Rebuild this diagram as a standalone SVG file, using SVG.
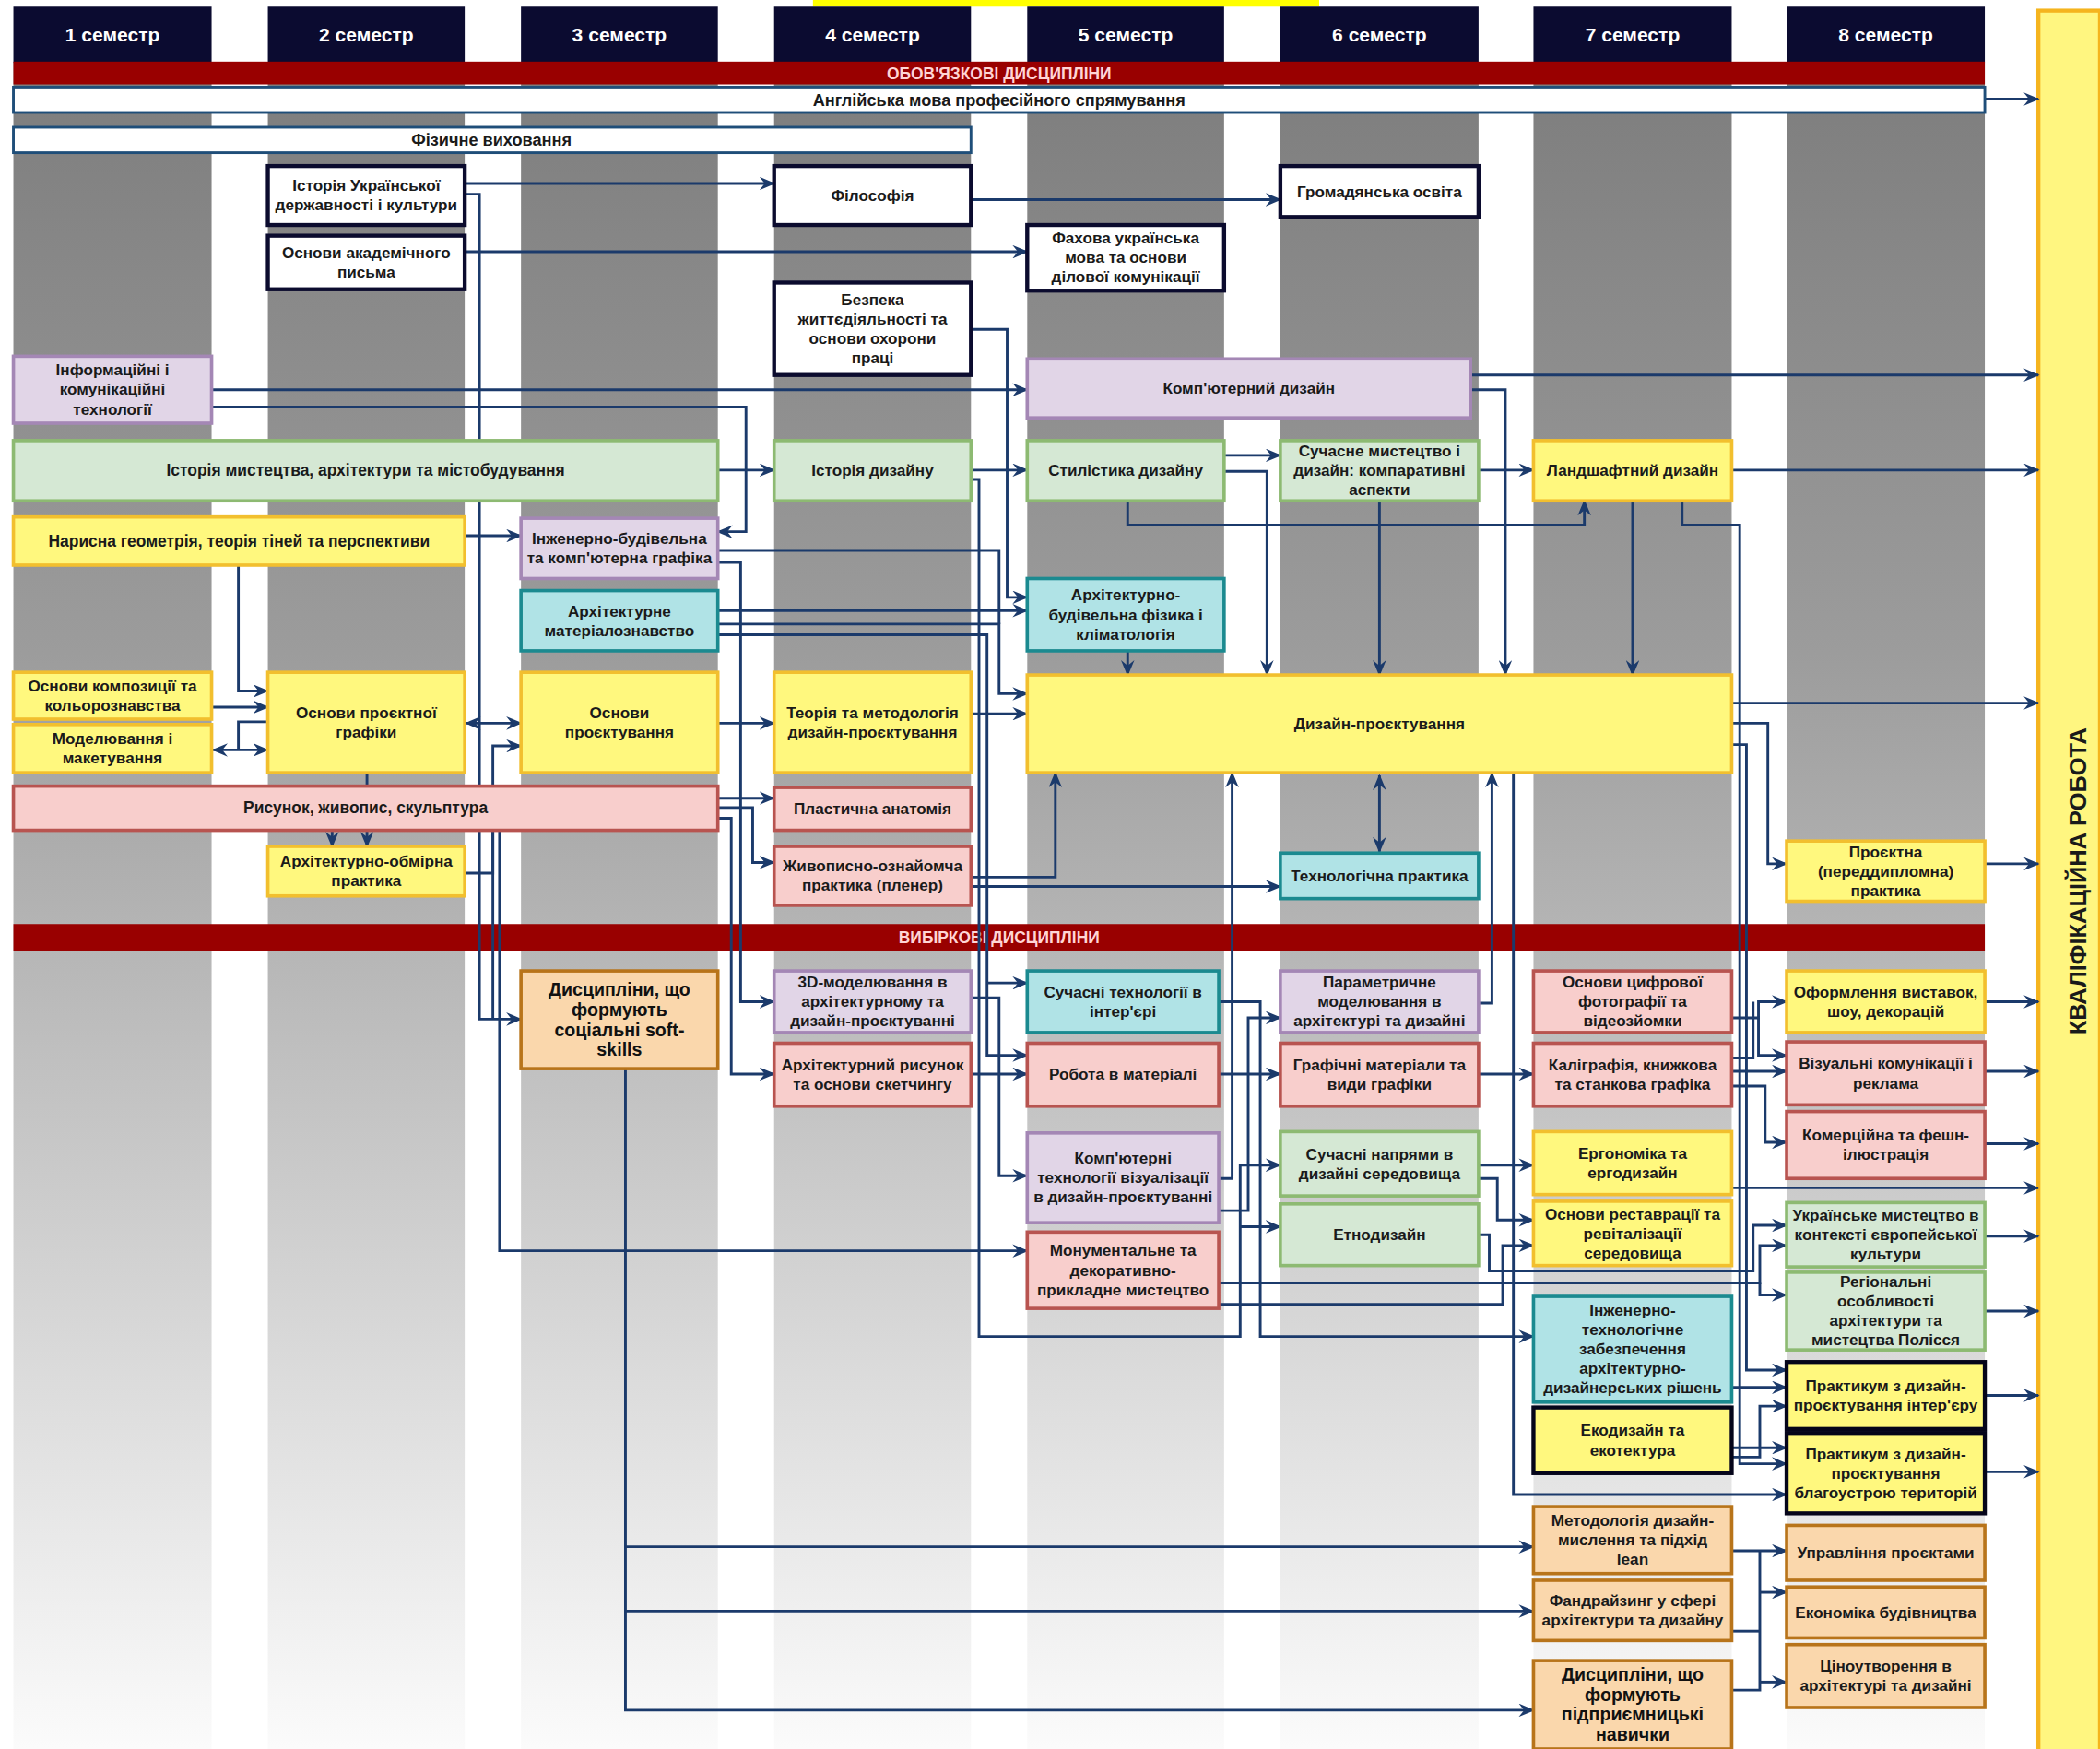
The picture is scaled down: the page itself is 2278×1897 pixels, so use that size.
<svg xmlns="http://www.w3.org/2000/svg" width="2278" height="1897" viewBox="0 0 2278 1897">
<defs>
<linearGradient id="colg" gradientUnits="userSpaceOnUse" x1="0" y1="47" x2="0" y2="1306">
<stop offset="0" stop-color="#7d7d7d"/>
<stop offset="0.35" stop-color="#9c9c9c"/>
<stop offset="0.7" stop-color="#d0d0d0"/>
<stop offset="1" stop-color="#fbfbfb"/>
</linearGradient>
<marker id="ar" markerUnits="userSpaceOnUse" markerWidth="12" markerHeight="10" viewBox="0 0 12 10" refX="11" refY="5" orient="auto-start-reverse">
<path d="M0,0 L12,5 L0,10 L4,5 Z" fill="#1b3a6b"/>
</marker>
<style>
text{font-family:"Liberation Sans",Arial,sans-serif;font-weight:bold;}
.hd{fill:#0b0b30;}
.ht{fill:#ffffff;font-size:14.5px;text-anchor:middle;}
.col{fill:url(#colg);}
.bar{fill:#990000;}
.bt{fill:#ffd5d5;font-size:12px;text-anchor:middle;}
.t{fill:#1a1a1a;font-size:11.8px;text-anchor:middle;}
.tl{fill:#1a1a1a;font-size:12.5px;text-anchor:middle;}
.tb{fill:#111111;font-size:13.5px;text-anchor:middle;}
.w{fill:#ffffff;stroke:#0b0b2e;stroke-width:3;}
.wl{fill:#ffffff;stroke:#1f4e79;stroke-width:2;}
.lav{fill:#e1d5e7;stroke:#a487b5;stroke-width:2.5;}
.grn{fill:#d5e8d4;stroke:#8dba72;stroke-width:2.5;}
.yel{fill:#fff87e;stroke:#f2bf2e;stroke-width:2.5;}
.yk{fill:#fff87e;stroke:#05051a;stroke-width:3;}
.cyn{fill:#b0e3e6;stroke:#1b8a90;stroke-width:2.5;}
.pnk{fill:#f8cecc;stroke:#b85450;stroke-width:2.5;}
.org{fill:#fad7ac;stroke:#b8741a;stroke-width:2.5;}
.kr{fill:#fff680;stroke:#f5b41e;stroke-width:3;}
.c path{fill:none;stroke:#1b3a6b;stroke-width:2;}
.c .a{marker-end:url(#ar);}
.c .d{marker-end:url(#ar);marker-start:url(#ar);}
</style>
</defs>
<rect width="2278" height="1897" fill="#ffffff"/>
<g transform="scale(1.4528,1.45253)">
<rect x="607" y="0" width="378" height="5" fill="#ffff00"/>
<g id="columns">
<rect class="col" x="10" y="47" width="148" height="1259"/>
<rect class="col" x="200" y="47" width="147" height="1259"/>
<rect class="col" x="389" y="47" width="147" height="1259"/>
<rect class="col" x="578" y="47" width="147" height="1259"/>
<rect class="col" x="767" y="47" width="147" height="1259"/>
<rect class="col" x="956" y="47" width="148" height="1259"/>
<rect class="col" x="1145" y="47" width="148" height="1259"/>
<rect class="col" x="1334" y="47" width="148" height="1259"/>
</g>
<g id="headers">
<rect class="hd" x="10" y="5" width="148" height="42"/><text class="ht" x="84" y="31">1 семестр</text>
<rect class="hd" x="200" y="5" width="147" height="42"/><text class="ht" x="273.5" y="31">2 семестр</text>
<rect class="hd" x="389" y="5" width="147" height="42"/><text class="ht" x="462.5" y="31">3 семестр</text>
<rect class="hd" x="578" y="5" width="147" height="42"/><text class="ht" x="651.5" y="31">4 семестр</text>
<rect class="hd" x="767" y="5" width="147" height="42"/><text class="ht" x="840.5" y="31">5 семестр</text>
<rect class="hd" x="956" y="5" width="148" height="42"/><text class="ht" x="1030" y="31">6 семестр</text>
<rect class="hd" x="1145" y="5" width="148" height="42"/><text class="ht" x="1219" y="31">7 семестр</text>
<rect class="hd" x="1334" y="5" width="148" height="42"/><text class="ht" x="1408" y="31">8 семестр</text>
</g>
<g id="bar-mandatory"><rect class="bar" x="10" y="46" width="1472" height="17"/><text class="bt" x="746" y="59.5">ОБОВ'ЯЗКОВІ ДИСЦИПЛІНИ</text></g>
<g id="bar-elective"><rect class="bar" x="10" y="690" width="1472" height="20"/><text class="bt" x="746" y="704.5">ВИБІРКОВІ ДИСЦИПЛІНИ</text></g>
<g id="kr"><rect class="kr" x="1522" y="8" width="46" height="1300"/><text class="t" style="font-size:17.5px" transform="translate(1551,658) rotate(-90)" x="0" y="6.5">КВАЛІФІКАЦІЙНА РОБОТА</text></g>

<g class="c" id="connectors">
<path class="a" d="M1482,74 H1522"/>
<path class="a" d="M347,137 H578"/>
<path class="a" d="M347,145 H358 V761 H389"/>
<path class="a" d="M347,188 H767"/>
<path class="a" d="M725,149 H956"/>
<path class="a" d="M725,246 H752 V446 H767"/>
<path class="a" d="M158,291 H767"/>
<path class="a" d="M158,304 H557 V397 H536"/>
<path class="a" d="M536,351 H578"/>
<path class="a" d="M725,351 H767"/>
<path class="a" d="M725,358 H731 V998 H926 V870 H956"/>
<path class="a" d="M926,916 H956"/>
<path class="a" d="M910,748 H941 V998 H1145"/>
<path class="a" d="M910,880 H920 V577"/>
<path class="a" d="M910,904 H932 V760 H956"/>
<path class="a" d="M914,340 H956"/>
<path class="a" d="M914,352 H946 V504"/>
<path class="a" d="M842,374 V392 H1183 V374"/>
<path class="a" d="M1104,351 H1145"/>
<path class="a" d="M1030,374 V504"/>
<path class="a" d="M1098,280 H1522"/>
<path class="a" d="M1098,291 H1124 V504"/>
<path class="a" d="M1293,351 H1522"/>
<path class="a" d="M1219,374 V504"/>
<path class="a" d="M1256,374 V392 H1299 V1093 H1334"/>
<path class="a" d="M1293,525 H1522"/>
<path class="a" d="M1293,540 H1320 V645 H1334"/>
<path class="a" d="M1482,645 H1522"/>
<path class="a" d="M1293,556 H1304 V1023 H1334"/>
<path class="a" d="M842,486 V504"/>
<path class="a" d="M536,456 H767"/>
<path class="a" d="M536,466 H746 V518 H767"/>
<path d="M536,411 H746 V466"/>
<path class="a" d="M536,474 H737 V788 H767"/>
<path class="a" d="M737,734 H767"/>
<path class="a" d="M725,745 H746 V878 H767"/>
<path class="a" d="M536,596 H578"/>
<path class="a" d="M536,603 H562 V644 H578"/>
<path class="a" d="M536,611 H546 V802 H578"/>
<path class="a" d="M536,420 H553 V748 H578"/>
<path class="a" d="M725,802 H767"/>
<path class="a" d="M725,655 H788 V577"/>
<path class="a" d="M725,662 H956"/>
<path class="d" d="M1030,579 V636"/>
<path class="a" d="M725,533 H767"/>
<path class="a" d="M536,540 H578"/>
<path class="d" d="M348,540 H389"/>
<path class="a" d="M347,652 H368 V557 H389"/>
<path class="a" d="M178,422 V516 H200"/>
<path class="a" d="M158,528 H200"/>
<path class="d" d="M159,560 H200"/>
<path d="M200,539 H178 V560"/>
<path class="a" d="M347,400 H389"/>
<path d="M274,577 V587"/>
<path class="a" d="M248,620 V632"/>
<path class="a" d="M274,620 V632"/>
<path d="M368,620 V761"/>
<path class="a" d="M373,620 V934 H767"/>
<path class="a" d="M467,798 V1277 H1145"/>
<path class="a" d="M467,1155 H1145"/>
<path class="a" d="M467,1203 H1145"/>
<path class="a" d="M910,802 H956"/>
<path class="a" d="M1104,802 H1145"/>
<path class="a" d="M1104,749 H1114 V577"/>
<path class="a" d="M1130,577 V1116 H1334"/>
<path class="a" d="M1104,870 H1145"/>
<path class="a" d="M1104,880 H1118 V911 H1145"/>
<path class="a" d="M1104,922 H1112 V949 H1309 V915 H1334"/>
<path class="a" d="M910,958 H1314 V930 H1334"/>
<path class="a" d="M1314,958 V967 H1334"/>
<path class="a" d="M910,974 H1122 V930 H1145"/>
<path class="a" d="M1293,887 H1522"/>
<path class="a" d="M1293,760 H1313 V748 H1334"/>
<path class="a" d="M1313,760 V788 H1334"/>
<path d="M1293,790 H1309 V748"/>
<path class="a" d="M1293,800 H1334"/>
<path class="a" d="M1293,811 H1318 V853 H1334"/>
<path class="a" d="M1482,748 H1522"/>
<path class="a" d="M1482,800 H1522"/>
<path class="a" d="M1482,854 H1522"/>
<path class="a" d="M1482,923 H1522"/>
<path class="a" d="M1482,979 H1522"/>
<path class="a" d="M1482,1042 H1522"/>
<path class="a" d="M1482,1099 H1522"/>
<path class="a" d="M1293,1036 H1334"/>
<path class="a" d="M1293,1081 H1334"/>
<path class="a" d="M1293,1088 H1314 V1050 H1334"/>
<path class="a" d="M1293,1158 H1334"/>
<path d="M1314,1158 V1262 H1293"/>
<path class="a" d="M1314,1189 H1334"/>
<path class="a" d="M1314,1256 H1334"/>
<path d="M1293,1218 H1314"/>
</g>

<g id="n-english"><rect class="wl" x="10" y="65" width="1472" height="19"/><text class="tl" x="746" y="79">Англійська мова професійного спрямування</text></g>
<g id="n-fizvykh"><rect class="wl" x="10" y="95" width="715" height="19"/><text class="tl" x="367" y="109">Фізичне виховання</text></g>
<g id="n-istukr"><rect class="w" x="200" y="124" width="147" height="44"/><text class="t"><tspan x="273.5" y="142.75">Історія Української</tspan><tspan x="273.5" y="157.25">державності і культури</tspan></text></g>
<g id="n-akad"><rect class="w" x="200" y="176" width="147" height="40"/><text class="t"><tspan x="273.5" y="192.75">Основи академічного</tspan><tspan x="273.5" y="207.25">письма</tspan></text></g>
<g id="n-filos"><rect class="w" x="578" y="124" width="147" height="44"/><text class="t" x="651.5" y="150">Філософія</text></g>
<g id="n-gromad"><rect class="w" x="956" y="124" width="148" height="38"/><text class="t" x="1030" y="147">Громадянська освіта</text></g>
<g id="n-fakh"><rect class="w" x="767" y="168" width="147" height="49"/><text class="t"><tspan x="840.5" y="182">Фахова українська</tspan><tspan x="840.5" y="196.5">мова та основи</tspan><tspan x="840.5" y="211">ділової комунікації</tspan></text></g>
<g id="n-bezp"><rect class="w" x="578" y="211" width="147" height="69"/><text class="t"><tspan x="651.5" y="227.75">Безпека</tspan><tspan x="651.5" y="242.25">життєдіяльності та</tspan><tspan x="651.5" y="256.75">основи охорони</tspan><tspan x="651.5" y="271.25">праці</tspan></text></g>
<g id="n-inf"><rect class="lav" x="10" y="266" width="148" height="50"/><text class="t"><tspan x="84" y="280.5">Інформаційні і</tspan><tspan x="84" y="295">комунікаційні</tspan><tspan x="84" y="309.5">технології</tspan></text></g>
<g id="n-compd"><rect class="lav" x="767" y="268" width="331" height="44"/><text class="t" x="932.5" y="294">Комп'ютерний дизайн</text></g>
<g id="n-istm"><rect class="grn" x="10" y="329" width="526" height="45"/><text class="t" style="font-size:12px" x="273" y="355.5">Історія мистецтва, архітектури та містобудування</text></g>
<g id="n-istd"><rect class="grn" x="578" y="329" width="147" height="45"/><text class="t" x="651.5" y="355.5">Історія дизайну</text></g>
<g id="n-stil"><rect class="grn" x="767" y="329" width="147" height="45"/><text class="t" x="840.5" y="355.5">Стилістика дизайну</text></g>
<g id="n-suchm"><rect class="grn" x="956" y="329" width="148" height="45"/><text class="t"><tspan x="1030" y="341">Сучасне мистецтво і</tspan><tspan x="1030" y="355.5">дизайн: компаративні</tspan><tspan x="1030" y="370">аспекти</tspan></text></g>
<g id="n-land"><rect class="yel" x="1145" y="329" width="148" height="45"/><text class="t" x="1219" y="355.5">Ландшафтний дизайн</text></g>
<g id="n-naris"><rect class="yel" x="10" y="386" width="337" height="36"/><text class="t" style="font-size:12px" x="178.5" y="408">Нарисна геометрія, теорія тіней та перспективи</text></g>
<g id="n-inzh"><rect class="lav" x="389" y="387" width="147" height="45"/><text class="t"><tspan x="462.5" y="406.25">Інженерно-будівельна</tspan><tspan x="462.5" y="420.75">та комп'ютерна графіка</tspan></text></g>
<g id="n-mater"><rect class="cyn" x="389" y="441" width="147" height="45"/><text class="t"><tspan x="462.5" y="460.25">Архітектурне</tspan><tspan x="462.5" y="474.75">матеріалознавство</tspan></text></g>
<g id="n-fiz"><rect class="cyn" x="767" y="432" width="147" height="54"/><text class="t"><tspan x="840.5" y="448.5">Архітектурно-</tspan><tspan x="840.5" y="463">будівельна фізика і</tspan><tspan x="840.5" y="477.5">кліматологія</tspan></text></g>
<g id="n-kompoz"><rect class="yel" x="10" y="502" width="148" height="35"/><text class="t"><tspan x="84" y="516.25">Основи композиції та</tspan><tspan x="84" y="530.75">кольорознавства</tspan></text></g>
<g id="n-model"><rect class="yel" x="10" y="541" width="148" height="36"/><text class="t"><tspan x="84" y="555.75">Моделювання і</tspan><tspan x="84" y="570.25">макетування</tspan></text></g>
<g id="n-proekgr"><rect class="yel" x="200" y="502" width="147" height="75"/><text class="t"><tspan x="273.5" y="536.25">Основи проєктної</tspan><tspan x="273.5" y="550.75">графіки</tspan></text></g>
<g id="n-osnpr"><rect class="yel" x="389" y="502" width="147" height="75"/><text class="t"><tspan x="462.5" y="536.25">Основи</tspan><tspan x="462.5" y="550.75">проєктування</tspan></text></g>
<g id="n-teor"><rect class="yel" x="578" y="502" width="147" height="75"/><text class="t"><tspan x="651.5" y="536.25">Теорія та методологія</tspan><tspan x="651.5" y="550.75">дизайн-проєктування</tspan></text></g>
<g id="n-dp"><rect class="yel" x="767" y="504" width="526" height="73"/><text class="t" x="1030" y="544.5">Дизайн-проєктування</text></g>
<g id="n-rys"><rect class="pnk" x="10" y="587" width="526" height="33"/><text class="t" style="font-size:12px" x="273" y="607.5">Рисунок, живопис, скульптура</text></g>
<g id="n-plast"><rect class="pnk" x="578" y="588" width="147" height="32"/><text class="t" x="651.5" y="608">Пластична анатомія</text></g>
<g id="n-obmir"><rect class="yel" x="200" y="632" width="147" height="37"/><text class="t"><tspan x="273.5" y="647.25">Архітектурно-обмірна</tspan><tspan x="273.5" y="661.75">практика</tspan></text></g>
<g id="n-zhyv"><rect class="pnk" x="578" y="632" width="147" height="44"/><text class="t"><tspan x="651.5" y="650.75">Живописно-ознайомча</tspan><tspan x="651.5" y="665.25">практика (пленер)</tspan></text></g>
<g id="n-tech"><rect class="cyn" x="956" y="637" width="148" height="34"/><text class="t" x="1030" y="658">Технологічна практика</text></g>
<g id="n-proektna"><rect class="yel" x="1334" y="628" width="148" height="45"/><text class="t"><tspan x="1408" y="640">Проєктна</tspan><tspan x="1408" y="654.5">(переддипломна)</tspan><tspan x="1408" y="669">практика</tspan></text></g>

<g id="n-soft"><rect class="org" x="389" y="725" width="147" height="73"/><text class="tb"><tspan x="462.5" y="743.5">Дисципліни, що</tspan><tspan x="462.5" y="758.5">формують</tspan><tspan x="462.5" y="773.5">соціальні soft-</tspan><tspan x="462.5" y="788.5">skills</tspan></text></g>
<g id="n-3d"><rect class="lav" x="578" y="725" width="147" height="46"/><text class="t"><tspan x="651.5" y="737.5">3D-моделювання в</tspan><tspan x="651.5" y="752">архітектурному та</tspan><tspan x="651.5" y="766.5">дизайн-проєктуванні</tspan></text></g>
<g id="n-arhrys"><rect class="pnk" x="578" y="779" width="147" height="47"/><text class="t"><tspan x="651.5" y="799.25">Архітектурний рисунок</tspan><tspan x="651.5" y="813.75">та основи скетчингу</tspan></text></g>
<g id="n-suchtech"><rect class="cyn" x="767" y="725" width="143" height="46"/><text class="t"><tspan x="838.5" y="744.75">Сучасні технології в</tspan><tspan x="838.5" y="759.25">інтер'єрі</tspan></text></g>
<g id="n-robota"><rect class="pnk" x="767" y="779" width="143" height="47"/><text class="t" x="838.5" y="806.5">Робота в матеріалі</text></g>
<g id="n-kompvis"><rect class="lav" x="767" y="846" width="143" height="67"/><text class="t"><tspan x="838.5" y="869">Комп'ютерні</tspan><tspan x="838.5" y="883.5">технології візуалізації</tspan><tspan x="838.5" y="898">в дизайн-проєктуванні</tspan></text></g>
<g id="n-monum"><rect class="pnk" x="767" y="920" width="143" height="57"/><text class="t"><tspan x="838.5" y="938">Монументальне та</tspan><tspan x="838.5" y="952.5">декоративно-</tspan><tspan x="838.5" y="967">прикладне мистецтво</tspan></text></g>
<g id="n-param"><rect class="lav" x="956" y="725" width="148" height="46"/><text class="t"><tspan x="1030" y="737.5">Параметричне</tspan><tspan x="1030" y="752">моделювання в</tspan><tspan x="1030" y="766.5">архітектурі та дизайні</tspan></text></g>
<g id="n-grafmat"><rect class="pnk" x="956" y="779" width="148" height="47"/><text class="t"><tspan x="1030" y="799.25">Графічні матеріали та</tspan><tspan x="1030" y="813.75">види графіки</tspan></text></g>
<g id="n-suchnap"><rect class="grn" x="956" y="845" width="148" height="48"/><text class="t"><tspan x="1030" y="865.75">Сучасні напрями в</tspan><tspan x="1030" y="880.25">дизайні середовища</tspan></text></g>
<g id="n-etno"><rect class="grn" x="956" y="899" width="148" height="46"/><text class="t" x="1030" y="926">Етнодизайн</text></g>
<g id="n-foto"><rect class="pnk" x="1145" y="725" width="148" height="46"/><text class="t"><tspan x="1219" y="737.5">Основи цифрової</tspan><tspan x="1219" y="752">фотографії та</tspan><tspan x="1219" y="766.5">відеозйомки</tspan></text></g>
<g id="n-kaligr"><rect class="pnk" x="1145" y="779" width="148" height="47"/><text class="t"><tspan x="1219" y="799.25">Каліграфія, книжкова</tspan><tspan x="1219" y="813.75">та станкова графіка</tspan></text></g>
<g id="n-ergo"><rect class="yel" x="1145" y="845" width="148" height="47"/><text class="t"><tspan x="1219" y="865.25">Ергономіка та</tspan><tspan x="1219" y="879.75">ергодизайн</tspan></text></g>
<g id="n-restav"><rect class="yel" x="1145" y="897" width="148" height="48"/><text class="t"><tspan x="1219" y="910.5">Основи реставрації та</tspan><tspan x="1219" y="925">ревіталізації</tspan><tspan x="1219" y="939.5">середовища</tspan></text></g>
<g id="n-inzhtech"><rect class="cyn" x="1145" y="968" width="148" height="79"/><text class="t"><tspan x="1219" y="982.5">Інженерно-</tspan><tspan x="1219" y="997">технологічне</tspan><tspan x="1219" y="1011.5">забезпечення</tspan><tspan x="1219" y="1026">архітектурно-</tspan><tspan x="1219" y="1040.5">дизайнерських рішень</tspan></text></g>
<g id="n-eko"><rect class="yk" x="1145" y="1051" width="148" height="49"/><text class="t"><tspan x="1219" y="1072.25">Екодизайн та</tspan><tspan x="1219" y="1086.75">екотектура</tspan></text></g>
<g id="n-metod"><rect class="org" x="1145" y="1125" width="148" height="50"/><text class="t"><tspan x="1219" y="1139.5">Методологія дизайн-</tspan><tspan x="1219" y="1154">мислення та підхід</tspan><tspan x="1219" y="1168.5">lean</tspan></text></g>
<g id="n-fand"><rect class="org" x="1145" y="1180" width="148" height="45"/><text class="t"><tspan x="1219" y="1199.25">Фандрайзинг у сфері</tspan><tspan x="1219" y="1213.75">архітектури та дизайну</tspan></text></g>
<g id="n-pidpr"><rect class="org" x="1145" y="1240" width="148" height="66"/><text class="tb"><tspan x="1219" y="1255">Дисципліни, що</tspan><tspan x="1219" y="1270">формують</tspan><tspan x="1219" y="1285">підприємницькі</tspan><tspan x="1219" y="1300">навички</tspan></text></g>
<g id="n-oform"><rect class="yel" x="1334" y="725" width="148" height="46"/><text class="t"><tspan x="1408" y="744.75">Оформлення виставок,</tspan><tspan x="1408" y="759.25">шоу, декорацій</tspan></text></g>
<g id="n-vizual"><rect class="pnk" x="1334" y="778" width="148" height="47"/><text class="t"><tspan x="1408" y="798.25">Візуальні комунікації і</tspan><tspan x="1408" y="812.75">реклама</tspan></text></g>
<g id="n-komerc"><rect class="pnk" x="1334" y="830" width="148" height="50"/><text class="t"><tspan x="1408" y="851.75">Комерційна та фешн-</tspan><tspan x="1408" y="866.25">ілюстрація</tspan></text></g>
<g id="n-ukr"><rect class="grn" x="1334" y="898" width="148" height="48"/><text class="t"><tspan x="1408" y="911.5">Українське мистецтво в</tspan><tspan x="1408" y="926">контексті європейської</tspan><tspan x="1408" y="940.5">культури</tspan></text></g>
<g id="n-region"><rect class="grn" x="1334" y="950" width="148" height="58"/><text class="t"><tspan x="1408" y="961.25">Регіональні</tspan><tspan x="1408" y="975.75">особливості</tspan><tspan x="1408" y="990.25">архітектури та</tspan><tspan x="1408" y="1004.75">мистецтва Полісся</tspan></text></g>
<g id="n-prakt1"><rect class="yk" x="1334" y="1017" width="148" height="50"/><text class="t"><tspan x="1408" y="1038.75">Практикум з дизайн-</tspan><tspan x="1408" y="1053.25">проєктування інтер'єру</tspan></text></g>
<g id="n-prakt2"><rect class="yk" x="1334" y="1070" width="148" height="60"/><text class="t"><tspan x="1408" y="1089.5">Практикум з дизайн-</tspan><tspan x="1408" y="1104">проєктування</tspan><tspan x="1408" y="1118.5">благоустрою територій</tspan></text></g>
<g id="n-uprav"><rect class="org" x="1334" y="1139" width="148" height="41"/><text class="t" x="1408" y="1163.5">Управління проєктами</text></g>
<g id="n-ekon"><rect class="org" x="1334" y="1185" width="148" height="38"/><text class="t" x="1408" y="1208">Економіка будівництва</text></g>
<g id="n-tsin"><rect class="org" x="1334" y="1228" width="148" height="47"/><text class="t"><tspan x="1408" y="1248.25">Ціноутворення в</tspan><tspan x="1408" y="1262.75">архітектурі та дизайні</tspan></text></g>
</g>
</svg>
